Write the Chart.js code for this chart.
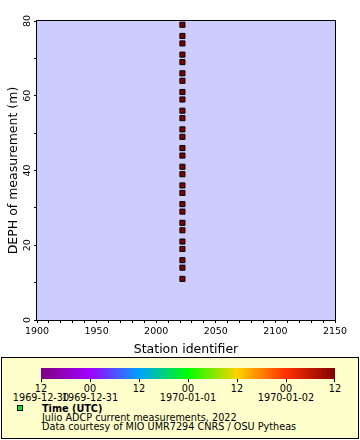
<!DOCTYPE html>
<html>
<head>
<meta charset="utf-8">
<script src="https://cdn.jsdelivr.net/npm/chart.js@4"></script>
<style>
  html, body { margin: 0; padding: 0; background: #ffffff; }
  body { width: 360px; height: 440px; position: relative; overflow: hidden; font-family: "DejaVu Sans", sans-serif; }
  #wrap { position: absolute; left: 0; top: 0; width: 360px; height: 357px; }
  #legend { position: absolute; left: 1px; top: 357px; width: 358px; height: 82px; box-sizing: border-box;
            border: 1px solid #000; background: #ffffcc; }
  .t { position: absolute; font-size: 9.7px; line-height: 10px; color: #000; white-space: nowrap; }
  .c { transform: translateX(-50%); }
</style>
</head>
<body>
<div id="wrap"><canvas id="chart" width="360" height="357"></canvas></div>
<div id="legend"></div>
<script>
// ---- data ----
const stationId = 2022;
const depths = [11, 14, 16, 19, 21, 24, 26, 29, 31, 34, 36, 39, 41, 44, 46, 49, 51, 54, 56, 59, 61, 64, 66, 69, 71, 74, 76, 79];
const xTickLabels = [1900, 1950, 2000, 2050, 2100, 2150];
const yTickLabels = [0, 20, 40, 60, 80];
const colorbarHours = ['12', '00', '12', '00', '12', '00', '12'];
const colorbarDates = ['1969-12-30', '1969-12-31', '', '1970-01-01', '', '1970-01-02', ''];
const colorbarStops = ['#800080', '#a000ff', '#00a0ff', '#00ff00', '#ffd200', '#ff3000', '#800000'];
const legendTitle = 'Time (UTC)';
const legendLines = ['Julio ADCP current measurements, 2022', 'Data courtesy of MIO UMR7294 CNRS / OSU Pytheas'];
const xTitle = 'Station identifier';
const yTitle = 'DEPH of measurement (m)';

const points = depths.map(d => ({ x: stationId, y: d }));

const frame = {
  id: 'frame',
  beforeDraw(chart) {
    const a = chart.chartArea, ctx = chart.ctx;
    ctx.save();
    ctx.fillStyle = '#ccccff';
    ctx.fillRect(a.left, a.top, a.right - a.left, a.bottom - a.top);
    ctx.restore();
  },
  afterDraw(chart) {
    const a = chart.chartArea, ctx = chart.ctx;
    ctx.save();
    ctx.strokeStyle = '#000';
    ctx.lineWidth = 1;
    ctx.strokeRect(Math.round(a.left) - 0.5, Math.round(a.top) - 0.5,
                   Math.round(a.right - a.left) + 1, Math.round(a.bottom - a.top) + 1);
    ctx.restore();
  }
};

const font = { family: 'DejaVu Sans', size: 9.5 };

new Chart(document.getElementById('chart'), {
  type: 'scatter',
  data: {
    datasets: [{
      data: points,
      pointStyle: 'rect',
      pointRadius: 3.6,
      pointHoverRadius: 3.6,
      backgroundColor: '#800000',
      borderColor: '#000000',
      borderWidth: 1
    }]
  },
  options: {
    responsive: false,
    animation: false,
    events: [],
    layout: { padding: { top: 21, right: 25, left: 0, bottom: 0 } },
    plugins: { legend: { display: false }, tooltip: { enabled: false } },
    scales: {
      x: {
        type: 'linear', min: 1900, max: 2150,
        afterFit: s => { s.height = 37; },
        grid: { drawOnChartArea: false, drawTicks: true, tickLength: 3, color: '#000' },
        border: { display: false },
        ticks: {
          stepSize: 10, autoSkip: false, maxRotation: 0, minRotation: 0,
          color: '#000', font: font, padding: 3,
          callback: v => (xTickLabels.includes(v) ? String(v) : '')
        },
        title: { display: true, text: xTitle, color: '#000', font: { family: 'DejaVu Sans', size: 12.5 }, padding: { top: 0, bottom: 0 } }
      },
      y: {
        type: 'linear', min: 0, max: 80,
        afterFit: s => { s.width = 37; },
        grid: { drawOnChartArea: false, drawTicks: true, tickLength: 3, color: '#000' },
        border: { display: false },
        ticks: {
          stepSize: 10, autoSkip: false, minRotation: 90, maxRotation: 90, crossAlign: 'center',
          color: '#000', font: font, padding: 0,
          callback: v => (yTickLabels.includes(v) ? String(v) : '')
        },
        title: { display: true, text: yTitle, color: '#000', font: { family: 'DejaVu Sans', size: 12.5 }, padding: { top: 6, bottom: 0 } }
      }
    }
  },
  plugins: [frame]
});

// ---- colour bar legend (HTML) ----
const lg = document.getElementById('legend');
const ox = 1, oy = 357; // legend origin in page coords (border included)
function addDiv(html, x, y, cls, extra) {
  const d = document.createElement('div');
  d.className = cls;
  d.style.left = (x - ox - 1) + 'px';
  d.style.top = (y - oy - 1) + 'px';
  if (extra) Object.assign(d.style, extra);
  d.textContent = html;
  lg.appendChild(d);
  return d;
}
const barL = 41, barR = 335, barT = 368, barH = 11;
const bar = document.createElement('div');
Object.assign(bar.style, {
  position: 'absolute', left: (barL - ox - 1) + 'px', top: (barT - oy - 1) + 'px',
  width: (barR - barL) + 'px', height: barH + 'px',
  background: 'linear-gradient(to right, ' + colorbarStops.join(', ') + ')'
});
lg.appendChild(bar);
const step = (barR - barL) / (colorbarHours.length - 1);
colorbarHours.forEach((h, i) => {
  const x = barL + i * step;
  const tk = document.createElement('div');
  Object.assign(tk.style, { position: 'absolute', left: (Math.round(x) - ox - 1 - (i === colorbarHours.length - 1 ? 1 : 0)) + 'px',
    top: (barT + barH - oy - 1) + 'px', width: '1px', height: '3px', background: '#000' });
  lg.appendChild(tk);
  addDiv(h, x, 383.5, 't c');
  if (colorbarDates[i]) addDiv(colorbarDates[i], x, 393, 't c');
});
const sq = document.createElement('div');
Object.assign(sq.style, { position: 'absolute', left: (17 - ox - 1) + 'px', top: (405 - oy - 1) + 'px',
  width: '6px', height: '6px', boxSizing: 'border-box', border: '1px solid #000', background: '#00ee00' });
lg.appendChild(sq);
addDiv(legendTitle, 42, 403.5, 't', { fontWeight: 'bold' });
addDiv(legendLines[0], 42, 412.8, 't');
addDiv(legendLines[1], 42, 422, 't');
</script>
</body>
</html>
